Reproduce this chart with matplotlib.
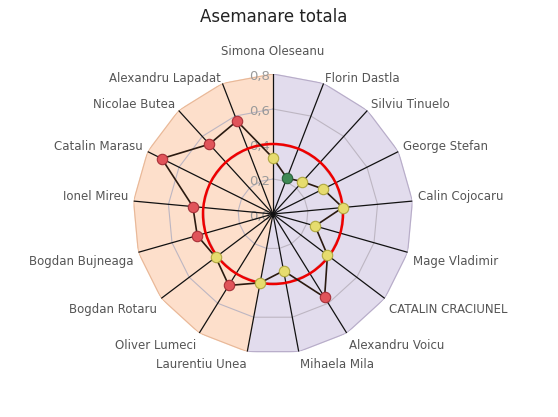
import numpy as np
import matplotlib.pyplot as plt
from matplotlib.patches import Circle

# date
nume = ['Simona Oleseanu', 'Florin Dastla', 'Silviu Tinuelo', 'George Stefan',
        'Calin Cojocaru', 'Mage Vladimir', 'CATALIN CRACIUNEL', 'Alexandru Voicu',
        'Mihaela Mila', 'Laurentiu Unea', 'Oliver Lumeci', 'Bogdan Rotaru',
        'Bogdan Bujneaga', 'Ionel Mireu', 'Catalin Marasu', 'Nicolae Butea',
        'Alexandru Lapadat']
valori = [0.32, 0.22, 0.25, 0.32, 0.40, 0.25, 0.39, 0.56, 0.33,
          0.40, 0.48, 0.41, 0.45, 0.46, 0.71, 0.54, 0.57]
praguri = [0.235, 0.445]          # verde / galben / rosu
nivele = [0.0, 0.2, 0.4, 0.6, 0.8]
etichete_nivel = ['0,0', '0,2', '0,4', '0,6', '0,8']
banda_mov = (0, 9)                # indici categorii
banda_portocalie = (9, 17)
linie_rosie = 0.4

n = len(nume)
ang = np.arange(n + 1) * 2 * np.pi / n
rmax = nivele[-1]

fig = plt.figure(figsize=(5.58, 4.17), dpi=100)
ax = fig.add_axes([133 / 558, 63 / 417, 280 / 558, 280 / 417], projection='polar')
ax.set_theta_zero_location('N')
ax.set_theta_direction(-1)
ax.set_ylim(0, rmax)
ax.set_facecolor('none')
ax.spines['polar'].set_visible(False)
ax.grid(False)
ax.set_xticks([])
ax.set_yticks([])

# benzi colorate
def banda(i0, i1, culoare, margine):
    t = np.concatenate([[0], ang[i0:i1 + 1], [0]])
    r = np.concatenate([[0], [rmax] * (i1 - i0 + 1), [0]])
    ax.fill(t, r, color=culoare, zorder=0)
    ax.plot(ang[i0:i1 + 1], [rmax] * (i1 - i0 + 1), color=margine, lw=0.8, zorder=1)

banda(*banda_mov, '#e2dced', '#b7acc8')
banda(*banda_portocalie, '#fddfcb', '#e8b898')

# grila poligonala
for v in nivele[1:-1]:
    ax.plot(ang, [v] * (n + 1), color='#bdb6c2', lw=0.8, zorder=1)

# etichete valori pe axa (sub spite)
for v, txt in zip(nivele, etichete_nivel):
    ax.annotate(txt, xy=(0, v), xytext=(-2, -2), textcoords='offset points',
                ha='right', va='center', fontsize=9.5, color='#9a9a9a', zorder=1.5)

# spite
for a in ang[:-1]:
    ax.plot([a, a], [0, rmax], color='#111111', lw=0.9, zorder=2)

# cerc rosu
ax.add_patch(Circle((0, 0), linie_rosie, transform=ax.transProjectionAffine + ax.transAxes,
                    fill=False, edgecolor='#ee0000', lw=1.8, zorder=3))

# seria
vals = valori + valori[:1]
ax.plot(ang, vals, color='#2a1a10', lw=1.2, zorder=4)
for a, v in zip(ang[:-1], valori):
    if v < praguri[0]:
        c, e = '#3f8a55', '#2a5f3a'
    elif v < praguri[1]:
        c, e = '#e6dc6e', '#b0a840'
    else:
        c, e = '#e0545a', '#a83038'
    ax.plot(a, v, 'o', ms=7.5, color=c, mec=e, mew=0.8, zorder=5)

# etichete categorii
r_et = 0.83
for a, txt in zip(ang[:-1], nume):
    s, c = np.sin(a), np.cos(a)
    if abs(s) < 0.05:
        ha, dy = 'center', 17
    else:
        ha = 'left' if s > 0 else 'right'
        dy = 4 * s * s if c > 0 else -8
    ax.annotate(txt, xy=(a, r_et), xytext=(0, dy * 0.72), textcoords='offset points',
                ha=ha, va='center', fontsize=8.5, color='#555555', annotation_clip=False)

fig.text(274 / 558, 1 - 17 / 417, 'Asemanare totala', ha='center', va='center',
         fontsize=12, color='#222222')

fig.savefig('out.png', dpi=100)
